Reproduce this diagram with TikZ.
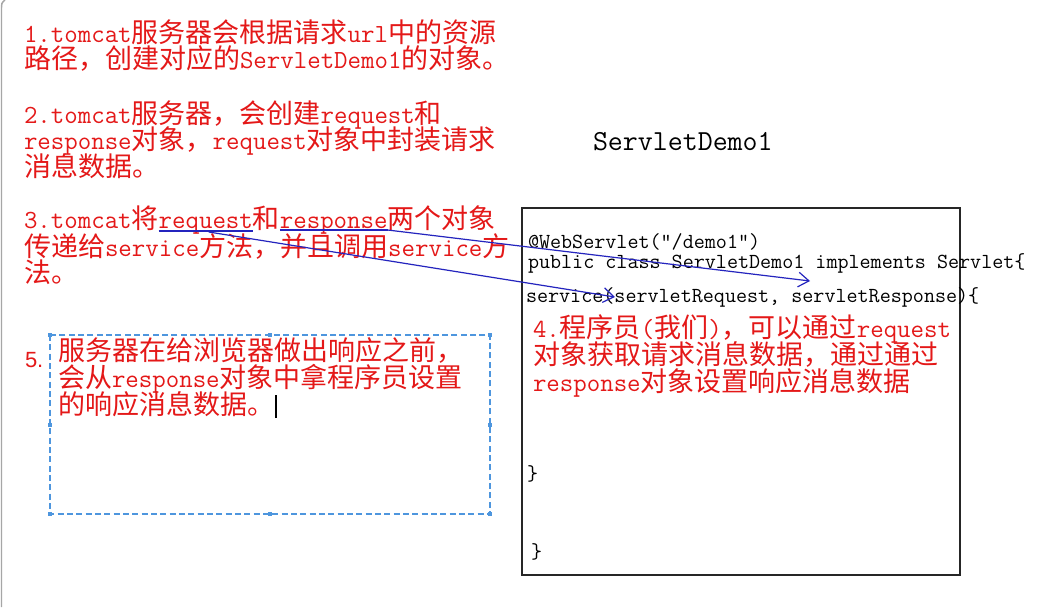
\documentclass[tikz,border=0pt]{standalone}
\usepackage{fontspec}
\newfontfamily\cjk{Noto Sans CJK SC}
\newfontfamily\arialf{Liberation Sans}
\usetikzlibrary{arrows.meta,calc}
\definecolor{tred}{RGB}{228,24,24}
\definecolor{tblue}{RGB}{36,36,190}
\definecolor{dblue}{RGB}{78,150,222}
\newcommand\Z[1]{{\cjk\fontsize{20.25}{20}\selectfont #1}}
\tikzset{
  rt/.style={text=tred, font=\ttfamily\fontsize{19.6}{20}\selectfont, anchor=base west, inner sep=0pt, outer sep=0pt, text height=14pt, text depth=3pt},
  code/.style={text=black, font=\ttfamily\fontsize{16.1}{19}\selectfont, anchor=base west, inner sep=0pt, outer sep=0pt},
  ul/.style={tblue, line width=0.9pt},
  arr/.style={tblue, line width=0.9pt, -{Straight Barb[length=8pt,width=11pt]}},
  handle/.style={fill=dblue},
}
\begin{document}
\begin{tikzpicture}[x=0.75pt,y=-0.75pt]
\useasboundingbox (0,0) rectangle (1037,607);
\fill[white] (0,0) rectangle (1037,607);
% left window edge
\draw[gray!70, line width=1.1pt] (5,0) .. controls (1.5,3) .. (1.5,10) -- (1.5,607);

% block 1
\node[rt] (l1a) at (24,42) {1.tomcat\Z{服务器会根据请求}url\Z{中的资源}};
\node[rt] (l1b) at (24,68.5) {\Z{路径，创建对应的}ServletDemo1\Z{的对象。}};
% block 2
\node[rt] (l2a) at (24,123) {2.tomcat\Z{服务器，会创建}request\Z{和}};
\node[rt] (l2b) at (24,149.5) {response\Z{对象，}request\Z{对象中封装请求}};
\node[rt] (l2c) at (24,176) {\Z{消息数据。}};
% block 3
\node[rt] (l3a) at (24,228) {3.tomcat\Z{将}};
\node[rt] (req) at (l3a.base east) {request};
\node[rt] (he) at (req.base east) {\Z{和}};
\node[rt] (resp) at (he.base east) {response};
\node[rt] (l3e) at (resp.base east) {\Z{两个对象}};
\node[rt] (l3b) at (24,256) {\Z{传递给}service\Z{方法，并且调用}service\Z{方}};
\node[rt] (l3c) at (24,282.5) {\Z{法。}};

% title
\node[code, font=\ttfamily\fontsize{21.8}{24}\selectfont] (title) at (593,150) {ServletDemo1};

% code box
\draw[black!85, line width=1.1pt] (522,208) rectangle (960,575);
\node[code] (c1) at (528,248) {@WebServlet(”/demo1”)};
\node[code] (c2) at (528,268) {public class ServletDemo1 implements Servlet\{};
\node[code] (c3) at (526,302) {service(servletRequest, servletResponse)\{};
\node[code] (c4) at (527,480) {\}};
\node[code] (c5) at (531,558) {\}};

% block 4
\node[rt] (l4a) at (533,337) {4.\Z{程序员}(\Z{我们})\Z{，可以通过}request};
\node[rt] (l4b) at (533,364) {\Z{对象获取请求消息数据，通过通过}};
\node[rt] (l4c) at (533,391) {response\Z{对象设置响应消息数据}};

% block 5
\draw[dblue, line width=0.8pt, dash pattern=on 4.5pt off 2.5pt] (50,335) rectangle (490,514);
\foreach \p in {(50,335),(270,335),(490,335),(50,425),(490,425),(50,514),(270,514),(490,514)}
  \fill[handle] \p ++(-2.2,-2.2) rectangle ++(4.4,4.4);
\node[rt, font=\arialf\fontsize{16.5}{20}\selectfont] (n5) at (25,367) {5.};
\node[rt] (l5a) at (58,360) {\Z{服务器在给浏览器做出响应之前，}};
\node[rt] (l5b) at (58,387) {\Z{会从}response\Z{对象中拿程序员设置}};
\node[rt] (l5c) at (58,414) {\Z{的响应消息数据。}};
\draw[black, line width=0.9pt] ($(l5c.base east)+(2,4)$) -- ++(0,-23);

% underlines and arrows
\draw[ul] ($(req.base west)+(0,3)$) -- ($(req.base east)+(0,3)$);
\draw[ul] ($(resp.base west)+(0,2)$) -- ($(resp.base east)+(0,2)$);
\coordinate (tipReq) at (615,297);
\coordinate (tipResp) at (810,281);
\draw[arr] ($(req.base)+(3,4)$) -- (tipReq);
\draw[arr] ($(resp.base east)+(0,2)$) -- (tipResp);
\end{tikzpicture}
\end{document}
